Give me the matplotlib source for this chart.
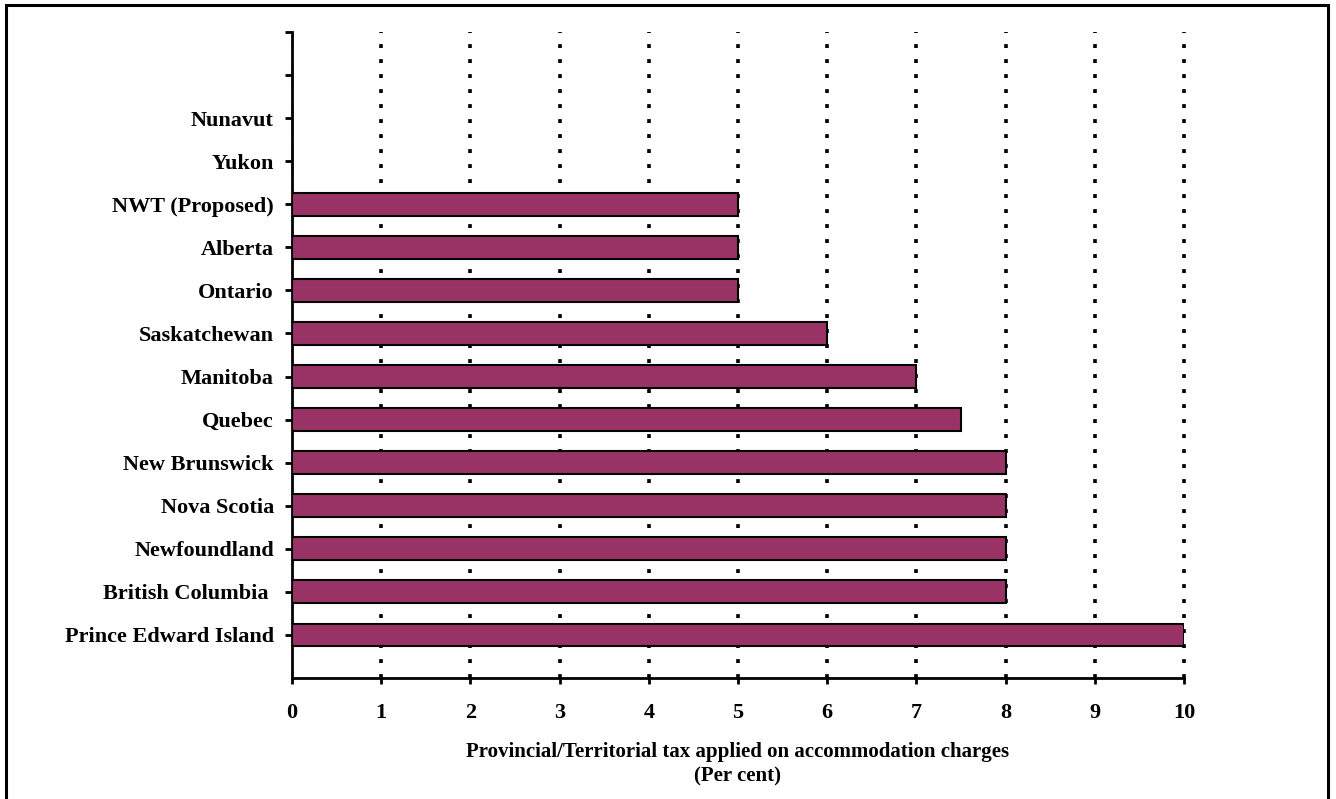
import matplotlib
matplotlib.use("Agg")
import matplotlib.pyplot as plt
from matplotlib.patches import Rectangle

# provinces / territories, bottom to top
regions = ["Prince Edward Island", "British Columbia ", "Newfoundland", "Nova Scotia",
           "New Brunswick", "Quebec", "Manitoba", "Saskatchewan", "Ontario", "Alberta",
           "NWT (Proposed)", "Yukon", "Nunavut", "", ""]
tax_rate = [10, 8, 8, 8, 8, 7.5, 7, 6, 5, 5, 5, 0, 0, 0, 0]
x_ticks = [0, 1, 2, 3, 4, 5, 6, 7, 8, 9, 10]

plt.rcParams['font.family'] = ['Liberation Serif', 'DejaVu Serif']
plt.rcParams['font.weight'] = 'bold'
plt.rcParams['lines.scale_dashes'] = False

fig = plt.figure(figsize=(13.36, 7.99), dpi=100)
ax = fig.add_axes([292/1336, 1-678/799, (1184-292)/1336, (678-32)/799])

pos = list(range(len(regions)))
ax.barh(pos, tax_rate, height=0.53, color='#993366', edgecolor='black', linewidth=1.5, zorder=3)

ax.set_xlim(0, 10)
ax.set_ylim(-1, 14)
ax.set_xticks(x_ticks)
ax.set_xticklabels([str(v) for v in x_ticks], fontsize=16, fontweight='bold')
ax.set_yticks(pos)
ax.set_yticklabels(regions, fontsize=16, fontweight='bold')

for v in x_ticks[1:]:
    ax.axvline(v, color='black', linewidth=2.6, linestyle=(0, (2.8, 8.0)), zorder=1, clip_on=False)

for s in ['top', 'right']:
    ax.spines[s].set_visible(False)
for s in ['left', 'bottom']:
    ax.spines[s].set_linewidth(2)
ax.tick_params(axis='y', direction='out', length=5, width=2, pad=8)
ax.tick_params(axis='x', direction='out', length=4, width=2, pad=14)

ax.set_xlabel("Provincial/Territorial tax applied on accommodation charges\n(Per cent)",
              fontsize=15, fontweight='bold', labelpad=14, linespacing=1.3)

# frame round the whole chart
fig.patches.append(Rectangle((6/1336, -0.01), 1322/1336, 1.01 - 5/799, transform=fig.transFigure,
                             fill=False, edgecolor='black', linewidth=2.2))

fig.savefig("out.png", dpi=100)
